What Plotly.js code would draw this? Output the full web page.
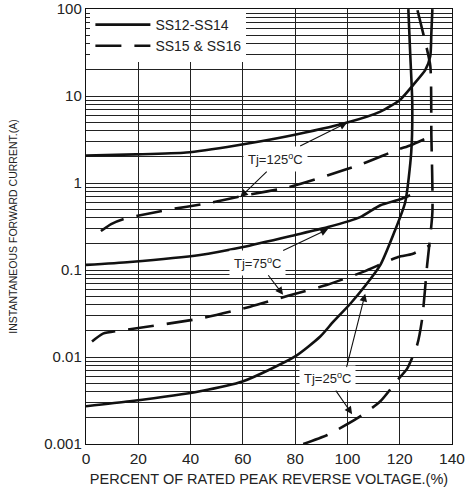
<!DOCTYPE html>
<html>
<head>
<meta charset="utf-8">
<script src="https://cdn.plot.ly/plotly-3.0.1.min.js"></script>
<style>html,body{margin:0;padding:0;background:#fff;}#chart{width:468px;height:493px;}</style>
</head>
<body>
<div id="chart"></div>
<script>
// Percent of rated peak reverse voltage (%) and instantaneous reverse current (A)
const s125x = [0, 19.1, 38.3, 57.4, 76.6, 99.9, 112.6, 120.2, 125.2, 129.8, 131.7, 132.1, 132.5];
const s125y = [2.08, 2.14, 2.25, 2.71, 3.43, 4.96, 6.63, 9.10, 13.5, 20.0, 29.0, 53.1, 100];
const s75x = [0, 16.8, 43.6, 60.1, 80.0, 92.6, 104.9, 112.6, 120.2, 124.0];
const s75y = [0.1147, 0.124, 0.149, 0.184, 0.253, 0.312, 0.406, 0.557, 0.653, 0.725];
const s25x = [0, 16.8, 43.6, 60.1, 80.0, 89.6, 94.6, 101.1, 106.8, 112.6, 117.5, 122.1, 124.4, 124.8, 124.0, 123.3];
const s25y = [0.00272, 0.00310, 0.00404, 0.00526, 0.01016, 0.0172, 0.0255, 0.0410, 0.0659, 0.1147, 0.253, 0.603, 2.25, 8.40, 31.4, 100];
const d125x = [5.7, 9.6, 14.2, 30.6, 46.7, 61.3, 77.3, 92.6, 106.0, 119.4, 124.0, 132.5];
const d125y = [0.281, 0.338, 0.385, 0.489, 0.587, 0.725, 0.895, 1.23, 1.68, 2.44, 2.71, 3.52];
const d75x = [2.3, 6.5, 16.1, 43.6, 62.8, 77.3, 92.3, 106.0, 119.4, 124.8, 131.7];
const d75y = [0.0151, 0.0186, 0.0207, 0.0277, 0.0379, 0.0507, 0.0678, 0.0953, 0.1416, 0.153, 0.194];
const d25x = [83.1, 92.3, 103.8, 112.6, 119.4, 122.9, 126.7, 128.6, 130.5, 132.5, 132.1, 131.7, 129.4, 126.7];
const d25y = [0.001, 0.00127, 0.00198, 0.00310, 0.00554, 0.00741, 0.0139, 0.0277, 0.115, 0.463, 3.62, 22.3, 46.6, 100];

const xTicks = [0, 20, 40, 60, 80, 100, 120, 140];
const yTicks = [0.001, 0.01, 0.1, 1, 10, 100];
const yTickText = ['0.001', '0.01', '0.1', '1', '10', '100'];
const seriesNames = ['SS12-SS14', 'SS15 & SS16'];

const FONT = 'Liberation Sans, Arial, sans-serif';
const solid = {color: '#111', width: 2.6, shape: 'spline', smoothing: 0.6};
const dashed = {color: '#111', width: 2.6, dash: '26px,13px', shape: 'spline', smoothing: 0.6};

const traces = [
  {x: s125x, y: s125y, mode: 'lines', line: solid, name: seriesNames[0], legendgroup: 'a', showlegend: true},
  {x: s75x, y: s75y, mode: 'lines', line: solid, name: seriesNames[0], legendgroup: 'a', showlegend: false},
  {x: s25x, y: s25y, mode: 'lines', line: solid, name: seriesNames[0], legendgroup: 'a', showlegend: false},
  {x: d125x, y: d125y, mode: 'lines', line: dashed, name: seriesNames[1], legendgroup: 'b', showlegend: true},
  {x: d75x, y: d75y, mode: 'lines', line: dashed, name: seriesNames[1], legendgroup: 'b', showlegend: false},
  {x: d25x, y: d25y, mode: 'lines', line: dashed, name: seriesNames[1], legendgroup: 'b', showlegend: false}
];

const ARROW = {arrowhead: 2, arrowsize: 1.4, arrowwidth: 1.1, arrowcolor: '#111'};
// temperature label with an arrow to a curve (tip in data units, label offset in px)
function label(text, x, ly, ax, ay) {
  return Object.assign({x: x, y: ly, xref: 'x', yref: 'y', text: text, showarrow: true, ax: ax, ay: ay,
    bgcolor: '#fff', borderpad: 4, font: {family: FONT, size: 13, color: '#222'}}, ARROW);
}
function arrow(x, ly, ax, ay) {
  return Object.assign({x: x, y: ly, xref: 'x', yref: 'y', text: '', showarrow: true, ax: ax, ay: ay}, ARROW);
}

const layout = {
  width: 468, height: 493,
  margin: {l: 86, r: 16, t: 9, b: 49},
  paper_bgcolor: '#fff', plot_bgcolor: '#fff',
  font: {family: FONT, size: 13, color: '#222'},
  showlegend: true,
  legend: {x: 0.012, y: 1.0, xanchor: 'left', yanchor: 'top', bgcolor: '#fff',
    font: {family: FONT, size: 14, color: '#222'}, itemwidth: 55, tracegroupgap: 0},
  xaxis: {
    range: [0, 140], tickvals: xTicks, ticks: '', showgrid: true, gridcolor: '#222', gridwidth: 1,
    zeroline: false, showline: true, linecolor: '#111', linewidth: 1.2, mirror: true,
    tickfont: {family: FONT, size: 15.5, color: '#222'},
    title: {text: 'PERCENT OF RATED PEAK REVERSE VOLTAGE.(%)', font: {family: FONT, size: 14.5, color: '#222'}, standoff: 8}
  },
  yaxis: {
    type: 'log', range: [-3, 2.002], tickvals: yTicks, ticktext: yTickText, ticks: '',
    ticklabeloverflow: 'allow',
    showgrid: true, gridcolor: '#222', gridwidth: 1,
    minor: {dtick: 'D1', showgrid: true, gridcolor: '#222', gridwidth: 1, ticks: ''},
    zeroline: false, showline: true, linecolor: '#111', linewidth: 1.2, mirror: true,
    tickfont: {family: FONT, size: 15, color: '#222'},
    title: {text: 'INSTANTANEOUS FORWARD CURRENT.(A)', font: {family: FONT, size: 10.5, color: '#222'}, standoff: 24}
  },
  annotations: [
    label('Tj=125<sup>o</sup>C', 99.9, 0.696, -72, 36),
    arrow(59.0, -0.1625, 28, -27),
    label('Tj=75<sup>o</sup>C', 92.6, -0.5286, -71, 34),
    arrow(75.4, -1.2838, -16, -21),
    label('Tj=25<sup>o</sup>C', 101.8, -2.657, -25, -36),
    arrow(106.8, -1.272, -19, 75)
  ]
};

Plotly.newPlot('chart', traces, layout, {staticPlot: true, displayModeBar: false});
</script>
</body>
</html>
